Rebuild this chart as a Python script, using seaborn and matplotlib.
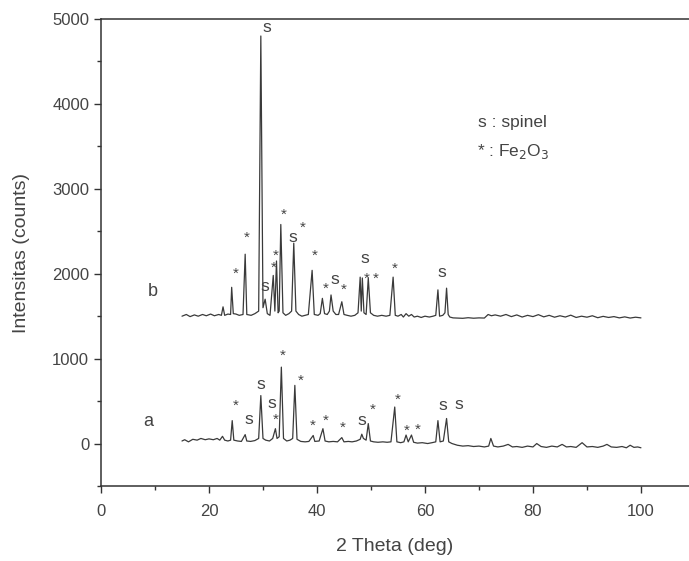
import numpy as np
import pandas as pd
import matplotlib
matplotlib.use("Agg")
import matplotlib.pyplot as plt
from matplotlib.ticker import MultipleLocator
import seaborn as sns

# pattern b (upper trace)
theta_b = [15.0, 15.8, 16.5, 17.3, 18.0, 18.8, 19.5, 20.3, 21.0, 21.8, 22.3, 22.6, 22.9,
           23.5, 24.0, 24.2, 24.5, 25.0, 25.6, 26.3, 26.7, 27.0, 27.8, 28.5, 29.2, 29.6,
           30.0, 30.4, 30.8, 31.3, 31.9, 32.2, 32.5, 32.8, 33.0, 33.3, 33.7, 34.2, 34.8,
           35.3, 35.7, 36.1, 36.6, 37.2, 37.8, 38.4, 39.1, 39.5, 40.2, 40.6, 41.0, 41.4,
           41.9, 42.3, 42.6, 43.0, 43.5, 44.0, 44.6, 45.0, 45.6, 46.3, 47.0, 47.6, 48.0,
           48.2, 48.4, 48.7, 49.1, 49.5, 49.9, 50.5, 51.2, 52.0, 52.8, 53.5, 54.1, 54.5,
           55.0, 55.6, 56.0, 56.5, 57.0, 57.5, 58.0, 58.6, 59.3, 60.0, 60.8, 61.5, 62.0,
           62.4, 62.7, 63.3, 63.7, 64.0, 64.3, 64.6, 65.2, 66.0, 67.0, 68.0, 69.0, 70.0,
           71.0, 71.7, 72.3, 73.0, 74.0, 75.0, 76.0, 77.0, 78.0, 79.0, 80.0, 81.0, 82.0,
           83.0, 84.0, 85.0, 86.0, 87.0, 88.0, 89.0, 90.0, 91.0, 92.0, 93.0, 94.0, 95.0,
           96.0, 97.0, 98.0, 99.0, 100.0]
int_b = [1500, 1520, 1495, 1515, 1500, 1520, 1505, 1525, 1505, 1520, 1510, 1610, 1510,
         1525, 1520, 1840, 1530, 1525, 1510, 1520, 2230, 1520, 1510, 1530, 1560, 4800,
         1600, 1700, 1530, 1510, 1980, 1560, 2150, 1540, 1560, 2580, 1540, 1510, 1530,
         1560, 2360, 1560, 1520, 1500, 1510, 1520, 2040, 1520, 1510, 1530, 1710, 1530,
         1520, 1560, 1750, 1560, 1520, 1520, 1670, 1520, 1510, 1500, 1510, 1540, 1960,
         1560, 1950, 1540, 1520, 1950, 1540, 1510, 1500, 1510, 1500, 1510, 1960, 1510,
         1500, 1520, 1490, 1530, 1500, 1520, 1490, 1500, 1485, 1500, 1490, 1500, 1510,
         1810, 1500, 1510, 1540, 1830, 1520, 1490, 1480, 1478, 1475, 1482, 1476, 1480,
         1478, 1520, 1505, 1515, 1500, 1520, 1495, 1515, 1490, 1510, 1495, 1518, 1492,
         1510, 1488, 1505, 1490, 1512, 1485, 1500, 1488, 1505, 1482, 1498, 1485, 1495,
         1480, 1492, 1478, 1488, 1480]

# pattern a (lower trace)
theta_a = [15.0, 15.5, 16.2, 17.0, 17.8, 18.5, 19.3, 20.0, 20.8, 21.5, 22.0, 22.5, 22.9,
           23.5, 24.0, 24.3, 24.6, 25.3, 26.0, 26.7, 27.0, 27.7, 28.5, 29.2, 29.6, 30.0,
           30.5, 31.2, 31.8, 32.3, 32.6, 33.0, 33.4, 33.8, 34.4, 35.0, 35.5, 35.9, 36.3,
           37.0, 37.8, 38.5, 39.3, 39.6, 40.4, 41.1, 41.5, 42.2, 43.0, 43.8, 44.6, 45.0,
           45.8, 46.5, 47.3, 48.0, 48.3, 48.6, 49.1, 49.5, 49.9, 50.5, 51.3, 52.2, 53.0,
           53.7, 54.4, 54.8, 55.5, 56.1, 56.5, 56.9, 57.5, 57.9, 58.6, 59.5, 60.5, 61.3,
           62.0, 62.4, 62.8, 63.4, 64.0, 64.4, 65.0, 66.0, 67.0, 68.0, 69.0, 70.0, 71.0,
           71.8, 72.2, 72.7, 73.5, 74.5, 75.4, 76.2, 77.0, 78.0, 79.0, 80.0, 80.7, 81.5,
           82.5, 83.5, 84.5, 85.4, 86.2, 87.0, 88.0, 89.1, 90.0, 91.0, 92.0, 93.0, 93.7,
           94.5, 95.5, 96.5, 97.3, 98.0, 98.7, 99.4, 100.0]
int_a = [30, 45, 20, 50, 40, 60, 45, 55, 45, 60, 40, 85, 40,
         30, 40, 270, 40, 30, 25, 105, 30, 25, 35, 60, 565, 60,
         40, 30, 60, 175, 60, 80, 900, 60, 30, 40, 60, 685, 50,
         25, 20, 25, 95, 25, 30, 175, 30, 20, 25, 20, 70, 20,
         25, 20, 30, 50, 110, 60, 40, 235, 30, 20, 15, 20, 15,
         20, 430, 20, 10, 20, 100, 20, 100, 15, 5, 10, 0, 10,
         20, 270, 20, 30, 295, 20, 0, -20, -30, -25, -35, -30, -40,
         -30, 60, -30, -40, -30, -10, -40, -35, -45, -30, -40, 0, -35,
         -45, -30, -40, -10, -40, -35, -45, 10, -40, -35, -45, -30, -10,
         -40, -45, -35, -50, -20, -45, -40, -50]

# peak markers (text, theta, intensity) for both patterns
mark_text_b = ["s", "*", "*", "s", "*", "*", "*", "s", "*", "*", "*", "s", "*", "s", "*", "*", "*", "s"]
mark_x_b = [30.7, 24.9, 27.0, 30.4, 31.9, 32.4, 33.9, 35.5, 37.3, 39.6, 41.7, 43.4, 45.0, 48.9, 49.3, 50.9, 54.4, 63.1]
mark_y_b = [4905, 1994, 2427, 1848, 2065, 2210, 2695, 2431, 2538, 2210, 1828, 1935, 1808, 2183, 1938, 1938, 2053, 2013]

mark_text_a = ["*", "s", "s", "s", "*", "*", "*", "*", "*", "*", "s", "*", "*", "*", "*", "s", "s"]
mark_x_a = [24.9, 27.4, 29.6, 31.7, 32.4, 33.6, 36.9, 39.3, 41.6, 44.8, 48.3, 50.4, 54.9, 56.6, 58.6, 63.4, 66.2]
mark_y_a = [441, 280, 694, 470, 285, 1028, 745, 213, 272, 186, 272, 398, 520, 145, 165, 449, 461]

df_b = pd.DataFrame({"theta": theta_b, "counts": int_b})
df_a = pd.DataFrame({"theta": theta_a, "counts": int_a})

sns.set_style("ticks")
plt.rcParams['font.family'] = ['Liberation Sans', 'DejaVu Sans']

fig = plt.figure(figsize=(6.89, 5.61), dpi=100)
ax = fig.add_axes([0.1466, 0.1337, 0.8534, 0.8324])

line_col = "#3a3a3a"
txt_col = "#444444"
sns.lineplot(data=df_b, x="theta", y="counts", ax=ax, color=line_col, linewidth=0.9, estimator=None)
sns.lineplot(data=df_a, x="theta", y="counts", ax=ax, color=line_col, linewidth=0.9, estimator=None)

for t, x, y in zip(mark_text_b + mark_text_a, mark_x_b + mark_x_a, mark_y_b + mark_y_a):
    if t == "s":
        ax.text(x, y, "s", fontsize=12.5, color=txt_col, ha="center", va="center")
    else:
        ax.text(x, y, "*", fontsize=11, color=txt_col, ha="center", va="center")

ax.text(9.6, 1785, "b", fontsize=13, color=txt_col, ha="center", va="center")
ax.text(8.8, 260, "a", fontsize=13, color=txt_col, ha="center", va="center")
ax.text(69.8, 3783, "s : spinel", fontsize=12.5, color=txt_col, ha="left", va="center")
ax.text(69.6, 3440, r"* : Fe$_2$O$_3$", fontsize=12.5, color=txt_col, ha="left", va="center")

ax.set_xlim(0, 108.9)
ax.set_ylim(-500, 5000)
ax.xaxis.set_major_locator(MultipleLocator(20))
ax.xaxis.set_minor_locator(MultipleLocator(10))
ax.yaxis.set_major_locator(MultipleLocator(1000))
ax.yaxis.set_minor_locator(MultipleLocator(500))
ax.set_xticks([0, 20, 40, 60, 80, 100])
ax.tick_params(axis="both", which="major", length=5, width=1, colors="#333333",
               labelsize=12, labelcolor=txt_col)
ax.tick_params(axis="x", which="major", pad=8)
ax.tick_params(axis="both", which="minor", length=3, width=1, colors="#333333")

ax.spines["right"].set_visible(False)
for s in ["left", "bottom", "top"]:
    ax.spines[s].set_color("#333333")
    ax.spines[s].set_linewidth(1.1)

ax.set_xlabel("2 Theta (deg)", fontsize=14, color=txt_col, labelpad=14)
ax.set_ylabel("Intensitas (counts)", fontsize=14, color=txt_col, labelpad=16)

fig.savefig("out.png", dpi=100)
